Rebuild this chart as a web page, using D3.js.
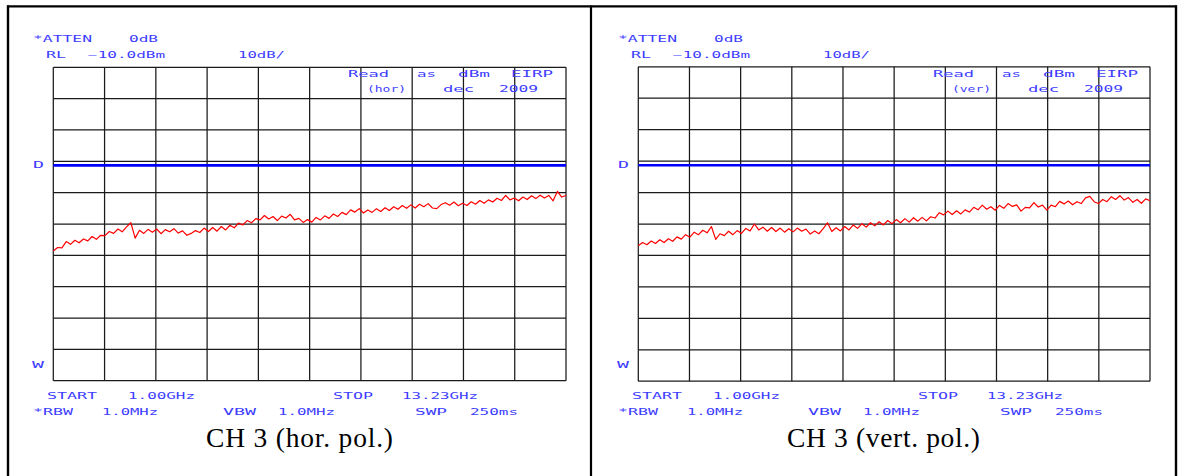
<!DOCTYPE html>
<html>
<head>
<meta charset="utf-8">
<script src="https://cdn.jsdelivr.net/npm/d3@7"></script>
<style>
  html, body { margin: 0; padding: 0; background: #fff; }
  svg { display: block; }
</style>
</head>
<body>
<svg id="chart" width="1184" height="476"></svg>
<script>
// ---------------- DATA ----------------
const startGHz = 1.00;
const stopGHz = 13.23;
const refLevel = -10;          // dBm, top of screen
const dbPerDiv = 10;
const divisions = 10;
const limitLineD = -41.3;      // "D" display line, dBm

const panelTitles = ["CH 3 (hor. pol.)", "CH 3 (vert. pol.)"];
const polLabels = ["(hor)", "(ver)"];

// sweep trace, horizontal polarisation (dBm), evenly spaced from start to stop
const traceHor = [
  -68.6,-67.5,-67.6,-65.6,-66.5,-65.2,-66.0,-64.8,-65.4,-64.0,
  -64.9,-63.6,-63.7,-62.4,-63.0,-61.6,-62.5,-60.9,-59.6,-64.5,
  -62.0,-63.0,-61.7,-62.6,-61.6,-63.1,-61.8,-62.5,-61.5,-62.9,
  -62.2,-63.6,-63.0,-62.1,-62.7,-61.3,-62.4,-61.1,-62.3,-60.8,
  -61.9,-60.4,-61.2,-59.7,-60.3,-58.9,-59.6,-58.3,-58.7,-57.3,
  -58.4,-57.6,-58.9,-57.5,-58.1,-56.9,-58.7,-58.2,-59.5,-58.6,
  -59.4,-57.9,-58.7,-57.4,-58.2,-56.8,-57.6,-56.3,-57.0,-55.5,
  -56.2,-55.1,-56.5,-55.5,-56.3,-55.1,-56.0,-54.8,-55.7,-54.5,
  -55.3,-54.1,-55.0,-53.9,-54.9,-53.7,-54.5,-53.5,-54.9,-55.1,
  -53.8,-53.2,-54.0,-53.0,-54.2,-53.4,-54.1,-52.9,-53.7,-52.5,
  -53.4,-52.3,-53.0,-51.8,-52.5,-50.9,-52.3,-51.7,-52.6,-51.4,
  -52.2,-51.0,-51.9,-50.8,-51.7,-50.9,-52.6,-49.6,-51.4,-50.9
];

// sweep trace, vertical polarisation (dBm)
const traceVer = [
  -66.9,-65.9,-66.6,-65.4,-66.2,-65.0,-65.9,-64.7,-65.5,-64.1,
  -64.8,-63.4,-64.2,-62.6,-63.4,-62.0,-62.8,-60.8,-64.9,-63.1,
  -63.7,-62.3,-63.4,-62.1,-63.0,-61.4,-62.2,-60.0,-61.9,-61.0,
  -62.3,-61.1,-62.4,-61.3,-62.6,-61.5,-62.5,-61.3,-62.3,-61.6,
  -63.2,-62.2,-63.1,-61.5,-59.6,-62.4,-61.2,-62.2,-60.8,-61.9,
  -60.3,-61.4,-59.9,-61.0,-59.6,-60.6,-59.3,-60.3,-58.9,-59.9,
  -58.6,-59.6,-58.3,-59.4,-58.0,-59.1,-57.9,-59.0,-57.7,-58.1,
  -56.4,-57.1,-55.9,-57.0,-55.8,-56.8,-55.5,-56.2,-54.7,-55.5,
  -54.0,-55.3,-54.5,-55.6,-54.1,-55.0,-53.5,-54.4,-53.9,-55.9,
  -54.7,-54.9,-53.2,-54.6,-54.0,-55.6,-54.0,-54.5,-52.8,-53.6,
  -52.7,-53.9,-52.9,-53.5,-51.7,-51.2,-52.9,-53.5,-52.2,-52.9,
  -51.3,-52.2,-51.0,-52.4,-51.6,-53.1,-52.2,-53.4,-52.0,-52.6
];

// annotation texts: [text, left px, right px, row]  (relative to panel offset)
const headerLabels = [
  ["*ATTEN", 33, 92, "r1"], ["0dB", 129, 158, "r1"],
  ["RL", 46, 66, "r2"], ["\u221210.0dBm", 88, 165, "r2"], ["10dB/", 238, 285, "r2"],
  ["Read", 348, 389, "r3"], ["as", 417, 436, "r3"], ["dBm", 458, 490, "r3"], ["EIRP", 511, 553, "r3"],
  ["POL", 367, 406, "r4"], ["dec", 443, 474, "r4"], ["2009", 499, 538, "r4"],
  ["D", 33, 44, "rD"], ["W", 32, 44, "rW"],
  ["START", 47, 97, "r5"], ["1.00GHz", 128, 195, "r5"], ["STOP", 333, 373, "r5"], ["13.23GHz", 402, 478, "r5"],
  ["*RBW", 33, 73, "r6"], ["1.0MHz", 102, 158, "r6"], ["VBW", 223, 256, "r6"], ["1.0MHz", 278, 335, "r6"],
  ["SWP", 415, 447, "r6"], ["250ms", 470, 518, "r6"]
];

// ---------------- LAYOUT ----------------
const svg = d3.select("#chart");
const rowY = { r1: 39, r2: 55, r3: 74, r4: 89, rD: 164.7, rW: 365, r5: 396, r6: 412.5 };

const panels = [
  { off: 0,   gx0: 53.3,  gx1: 566,  gy0: 67.3, gy1: 380.7, frameL: 8,   frameR: 591,  title: panelTitles[0], pol: polLabels[0], data: traceHor, titleW: 187 },
  { off: 585, gx0: 638.3, gx1: 1150, gy0: 66.8, gy1: 381.2, frameL: 591, frameR: 1176, title: panelTitles[1], pol: polLabels[1], data: traceVer, titleW: 193 }
];

// outer frame
const frame = svg.append("g").attr("stroke", "#000").attr("fill", "none");
frame.append("line").attr("x1", 8).attr("x2", 8).attr("y1", 5.5).attr("y2", 480).attr("stroke-width", 2.4);
frame.append("line").attr("x1", 591).attr("x2", 591).attr("y1", 5.5).attr("y2", 480).attr("stroke-width", 2.2);
frame.append("line").attr("x1", 1176).attr("x2", 1176).attr("y1", 5.5).attr("y2", 480).attr("stroke-width", 2.4);
frame.append("line").attr("x1", 7).attr("x2", 1177).attr("y1", 6.3).attr("y2", 6.3).attr("stroke-width", 2.2);

panels.forEach(p => {
  const g = svg.append("g");
  const x = d3.scaleLinear().domain([startGHz, stopGHz]).range([p.gx0, p.gx1]);
  const y = d3.scaleLinear().domain([refLevel - dbPerDiv * divisions, refLevel]).range([p.gy1, p.gy0]);

  const xGrid = d3.range(divisions + 1).map(i => startGHz + i * (stopGHz - startGHz) / divisions);
  const yGrid = d3.range(divisions + 1).map(i => refLevel - i * dbPerDiv);

  // grid
  const grid = g.append("g").attr("stroke", "#1a1a1a").attr("stroke-width", 1.25);
  grid.selectAll("line.v").data(xGrid).join("line")
    .attr("x1", d => x(d)).attr("x2", d => x(d))
    .attr("y1", y(refLevel)).attr("y2", y(refLevel - dbPerDiv * divisions));
  grid.selectAll("line.h").data(yGrid).join("line")
    .attr("x1", x(startGHz)).attr("x2", x(stopGHz))
    .attr("y1", d => y(d)).attr("y2", d => y(d));

  // limit line D
  g.append("line")
    .attr("x1", x(startGHz)).attr("x2", x(stopGHz))
    .attr("y1", y(limitLineD)).attr("y2", y(limitLineD))
    .attr("stroke", "#0000ff").attr("stroke-width", 2.6);

  // trace
  const n = p.data.length;
  const line = d3.line()
    .x((d, i) => x(startGHz + i * (stopGHz - startGHz) / (n - 1)))
    .y(d => y(d));
  g.append("path").datum(p.data)
    .attr("d", line)
    .attr("fill", "none")
    .attr("stroke", "#ff0000")
    .attr("stroke-width", 1.2)
    .attr("stroke-linejoin", "round");

  // blue analyzer annotations
  const lab = g.append("g")
    .attr("fill", "#3d3dff")
    .attr("font-family", "'DejaVu Sans Mono', 'Liberation Mono', monospace")
    .attr("font-size", 8);
  headerLabels.forEach(([t, l, r, row]) => {
    const txt = t === "POL" ? p.pol : t;
    lab.append("text")
      .attr("x", l + p.off)
      .attr("y", rowY[row] + 2.9)
      .attr("textLength", r - l)
      .attr("lengthAdjust", "spacingAndGlyphs")
      .text(txt);
  });

  // caption
  g.append("text")
    .attr("x", (p.frameL + p.frameR) / 2)
    .attr("y", 447)
    .attr("text-anchor", "middle")
    .attr("font-family", "'Liberation Serif', 'Times New Roman', serif")
    .attr("font-size", 27.5)
    .attr("fill", "#000")
    .attr("textLength", p.titleW)
    .attr("lengthAdjust", "spacing")
    .text(p.title);
});
</script>
</body>
</html>
